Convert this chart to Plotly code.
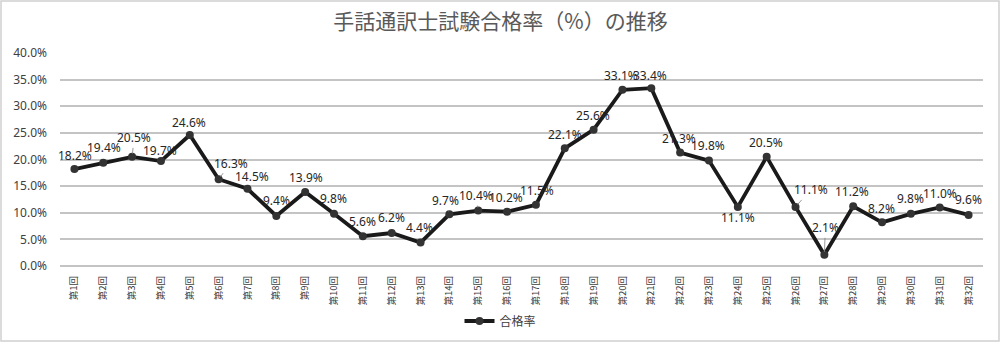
import plotly.graph_objects as go

categories = [f"第{i}回" for i in range(1, 33)]
pass_rate = [18.2, 19.4, 20.5, 19.7, 24.6, 16.3, 14.5, 9.4, 13.9, 9.8, 5.6, 6.2, 4.4, 9.7, 10.4,
             10.2, 11.5, 22.1, 25.6, 33.1, 33.4, 21.3, 19.8, 11.1, 20.5, 11.1, 2.1, 11.2, 8.2,
             9.8, 11.0, 9.6]
series_name = "合格率"
title_text = "手話通訳士試験合格率（%）の推移"
y_ticks = [0, 5, 10, 15, 20, 25, 30, 35, 40]
y_tick_labels = ["0.0%", "5.0%", "10.0%", "15.0%", "20.0%", "25.0%", "30.0%", "35.0%", "40.0%"]

# label offsets in pixels (dx, dy) and whether a leader line is drawn
label_dx = [1, 1, 2, -1, -1, 12, 5, 0, 1, -1, 0, 0, -1, -4, -2, -1, 1, 0, -1, -1, -1, -1, -1, 0, -1, 15, 1, -1, -1, 0, 0, 0]
label_dy = [-14, -15, -19, -11, -13, -16, -12, -15, -14, -15, -15, -15, -15, -14, -15, -14, -14, -14, -14, -14, -13, -14, -15, 11, -14, -17, -27, -15, -14, -15, -14, -15]
leader = [False, False, True, False, False, True, False, False, False, False, False, False, False, True, True,
          False, False, False, False, False, False, False, False, False, False, True, True, False, False, False, False, False]

LABEL_FONT = dict(family="Noto Sans, DejaVu Sans, sans-serif", size=12, color="#262626")

fig = go.Figure()
fig.add_trace(go.Scatter(
    x=categories, y=pass_rate, name=series_name, mode="lines+markers",
    line=dict(color="#1a1a1a", width=3.8),
    marker=dict(color="#333333", size=8, symbol="circle"),
    showlegend=True,
))

annotations = []
for i, (c, v) in enumerate(zip(categories, pass_rate)):
    txt = f"{v:.1f}%"
    if leader[i]:
        annotations.append(dict(
            x=c, y=v, xref="x", yref="y", text=txt, showarrow=True,
            arrowhead=0, arrowwidth=0.8, arrowcolor="#7f7f7f",
            ax=label_dx[i], ay=label_dy[i], standoff=3, font=LABEL_FONT,
        ))
    else:
        annotations.append(dict(
            x=c, y=v, xref="x", yref="y", text=txt, showarrow=False,
            xshift=label_dx[i], yshift=-label_dy[i], font=LABEL_FONT,
        ))

# chart border
L, R, T, B = 60, 983, 53, 266
def px_x(p):
    return (p - L) / (R - L)
def px_y(p):
    return (B - p) / (B - T)

fig.update_layout(
    width=1001, height=343,
    margin=dict(l=L, r=1001 - R, t=T, b=343 - B, autoexpand=False),
    paper_bgcolor="white", plot_bgcolor="white",
    title=dict(text=title_text, x=0.5, xref="container", xanchor="center",
               y=1 - 22 / 343, yref="container", yanchor="middle",
               font=dict(family="Noto Sans CJK JP, sans-serif", size=21, color="#595959")),
    xaxis=dict(type="category", range=[-0.5, 31.5], tickangle=-90, showgrid=False,
               showline=False, ticks="", zeroline=False, automargin=False,
               ticklabelstandoff=7,
               tickfont=dict(family="Noto Sans CJK JP, sans-serif", size=9.5, color="#404040")),
    yaxis=dict(range=[0, 40], tickvals=y_ticks, ticktext=y_tick_labels,
               showgrid=True, gridcolor="#c4c4c4", gridwidth=1.5, zeroline=True,
               zerolinecolor="#c4c4c4", zerolinewidth=1.5, showline=False, ticks="",
               automargin=False, ticklabelstandoff=12,
               tickfont=dict(family="Noto Sans, DejaVu Sans, sans-serif", size=12, color="#404040")),
    legend=dict(orientation="h", x=0.5, xref="container", xanchor="center",
                y=1 - 321 / 343, yref="container", yanchor="middle",
                font=dict(family="Noto Sans CJK JP, sans-serif", size=12, color="#404040")),
    annotations=annotations,
    shapes=[dict(type="rect", xref="paper", yref="paper",
                 x0=px_x(1), x1=px_x(999), y0=px_y(341), y1=px_y(1),
                 line=dict(color="#d0d0d0", width=1.5), fillcolor="rgba(0,0,0,0)")],
)

fig.write_html("out.html")
